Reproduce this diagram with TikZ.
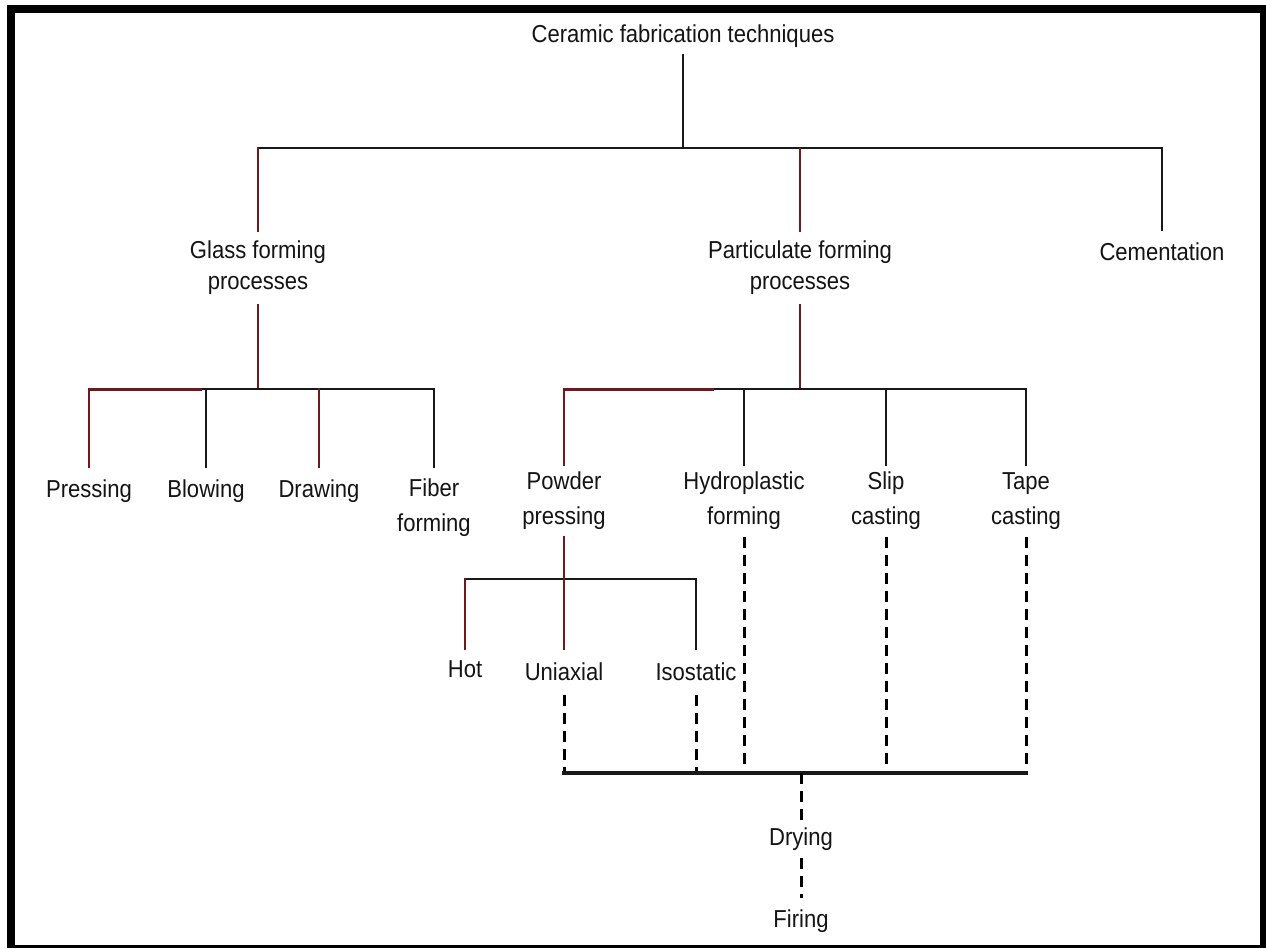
\documentclass[tikz,border=0pt]{standalone}
\usepackage{fontspec}
\setmainfont{Liberation Sans}[FakeStretch=0.9]
\definecolor{lnred}{RGB}{112,24,28}
\begin{document}
\begin{tikzpicture}[x=1pt,y=-1pt,
  lbl/.style={inner sep=0pt, align=center, text=black!92, font=\fontsize{24.5pt}{31pt}\selectfont},
  lbltwo/.style={lbl, font=\fontsize{24.5pt}{35pt}\selectfont},
  ln/.style={line width=1.8pt, black!90, line cap=rect},
  rln/.style={line width=2.2pt, lnred, line cap=rect},
  dln/.style={line width=3pt, black, dash pattern=on 11pt off 7pt},
]
\useasboundingbox (0,0) rectangle (1266,948);
% frame
\fill[black] (7,5) rectangle (1266,948);
\fill[white] (15,13) rectangle (1260,945);

% nodes
\node[lbl, minimum height=38pt] (title) at (683,36) {Ceramic fabrication techniques};
\node[lbl, minimum height=74pt] (glass) at (258,268) {Glass forming\\processes};
\node[lbl, minimum height=74pt] (part) at (800,268) {Particulate forming\\processes};
\node[lbl, minimum height=44pt] (cement) at (1162,252) {Cementation};

\node[lbl, minimum height=48pt] (pressing) at (89,491) {Pressing};
\node[lbl, minimum height=48pt] (blowing) at (206,491) {Blowing};
\node[lbl, minimum height=48pt] (drawing) at (319,491) {Drawing};
\node[lbltwo, minimum height=82pt] (fiber) at (434,508) {Fiber\\forming};

\node[lbltwo, minimum height=72pt] (powder) at (564,501) {Powder\\pressing};
\node[lbltwo, minimum height=72pt] (hydro) at (744,501) {Hydroplastic\\forming};
\node[lbltwo, minimum height=72pt] (slip) at (886,501) {Slip\\casting};
\node[lbltwo, minimum height=72pt] (tape) at (1026,501) {Tape\\casting};

\node[lbl, minimum height=40pt] (hot) at (465,669) {Hot};
\node[lbl, minimum height=46pt] (uni) at (564,672) {Uniaxial};
\node[lbl, minimum height=46pt] (iso) at (696,672) {Isostatic};

\node[lbl, minimum height=38pt] (drying) at (801,839) {Drying};
\node[lbl, minimum height=46pt] (firing) at (801,921) {Firing};

% junction coordinates
\coordinate (topbar) at (683,148);
\coordinate (gbar) at (258,389);
\coordinate (pbar) at (800,389);
\coordinate (sbar) at (564,579);
\coordinate (botbar) at (800,773);

% level 1
\draw[ln] (title.south) -- (title.south |- topbar);
\draw[ln] (glass.north |- topbar) -- (cement.north |- topbar);
\draw[rln] (glass.north |- topbar) -- (glass.north);
\draw[rln] (part.north |- topbar) -- (part.north);
\draw[ln] (cement.north |- topbar) -- (cement.north);

% glass branch
\draw[rln] (glass.south) -- (glass.south |- gbar);
\draw[ln] (pressing.north |- gbar) -- (fiber.north |- gbar);
\draw[rln, line width=3pt] (pressing.north |- gbar) -- (200,389);
\draw[rln] (pressing.north |- gbar) -- (pressing.north);
\draw[ln] (blowing.north |- gbar) -- (blowing.north);
\draw[rln] (drawing.north |- gbar) -- (drawing.north);
\draw[ln] (fiber.north |- gbar) -- (fiber.north);

% particulate branch
\draw[rln] (part.south) -- (part.south |- pbar);
\draw[ln] (powder.north |- pbar) -- (tape.north |- pbar);
\draw[rln, line width=3pt] (powder.north |- pbar) -- (712,389);
\draw[rln] (powder.north |- pbar) -- (powder.north);
\draw[ln] (hydro.north |- pbar) -- (hydro.north);
\draw[ln] (slip.north |- pbar) -- (slip.north);
\draw[ln] (tape.north |- pbar) -- (tape.north);

% powder pressing sub-branch
\draw[ln] (hot.north |- sbar) -- (iso.north |- sbar);
\draw[rln] (uni.north |- powder.south) -- (uni.north);
\draw[rln] (hot.north |- sbar) -- (hot.north);
\draw[ln] (iso.north |- sbar) -- (iso.north);

% dashed to drying
\draw[dln] (uni.south) -- (uni.south |- botbar);
\draw[dln] (iso.south) -- (iso.south |- botbar);
\draw[dln] (hydro.south) -- (hydro.south |- botbar);
\draw[dln] (slip.south) -- (slip.south |- botbar);
\draw[dln] (tape.south) -- (tape.south |- botbar);
\draw[line width=3.5pt, black!90, line cap=rect] (uni.south |- botbar) -- (tape.south |- botbar);
\draw[dln] (drying.north |- botbar) -- (drying.north);
\draw[dln] (drying.south) -- (firing.north);
\end{tikzpicture}
\end{document}
